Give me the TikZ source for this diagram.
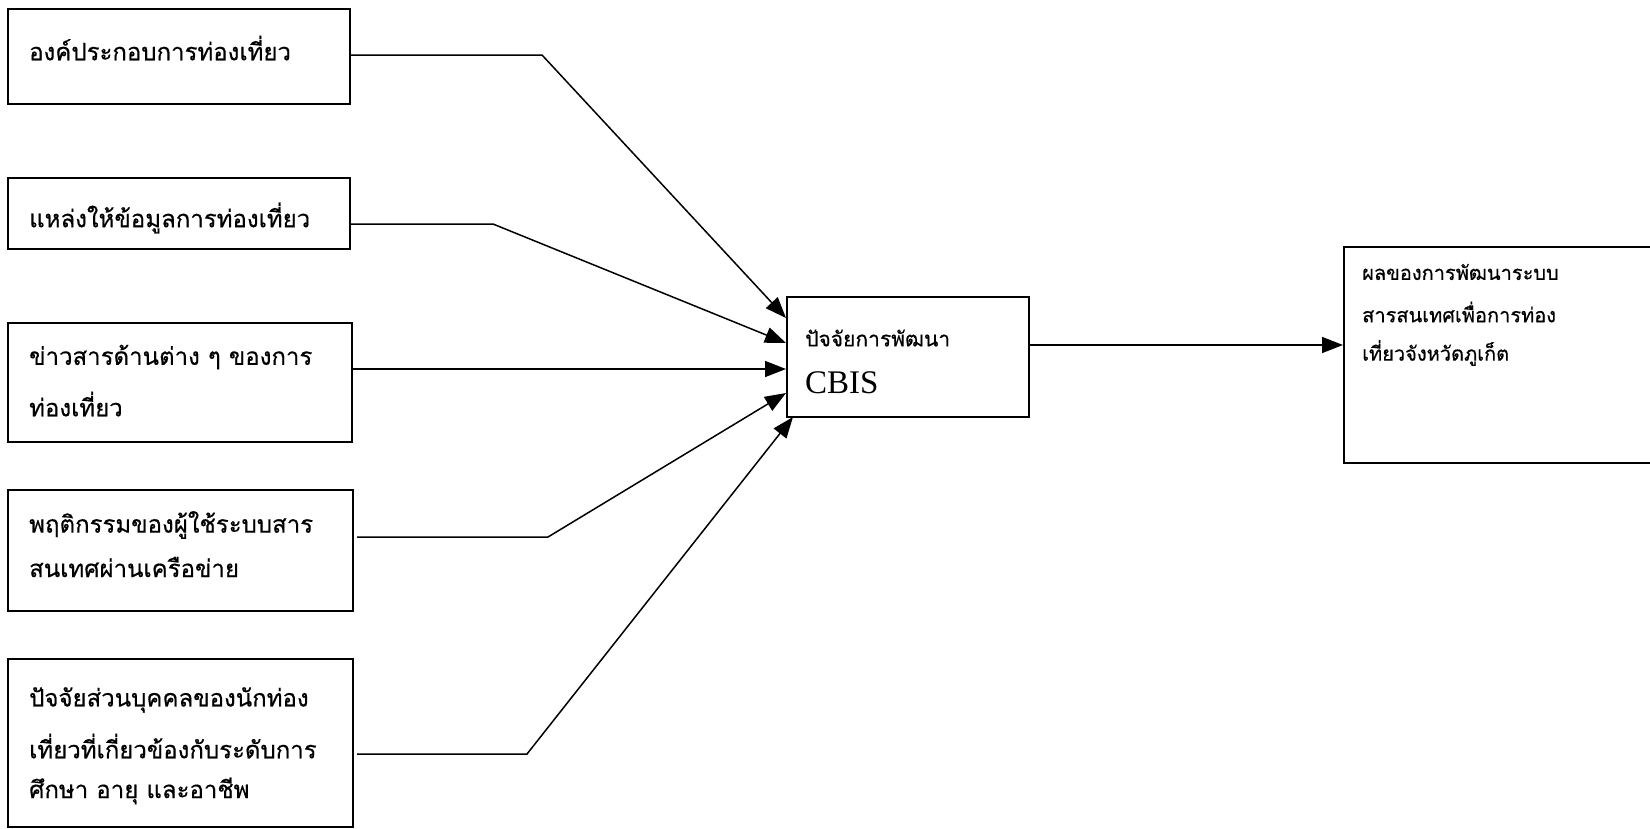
\documentclass[tikz,border=0pt]{standalone}
\usepackage{fontspec}
\setmainfont{Liberation Serif}
\newfontfamily\thaifont[Script=Thai,FakeBold=0.5]{Loma}
\usetikzlibrary{arrows.meta}
\begin{document}
\begin{tikzpicture}[x=1pt,y=-1pt,
  box/.style={draw, line width=1.9pt, inner sep=0pt, anchor=north west},
  conn/.style={line width=1.5pt, line join=miter},
  arr/.style={conn, -{Triangle[length=21pt,width=16pt]}},
  lbl/.style={anchor=west, inner sep=0pt, font=\thaifont\fontsize{24}{26}\selectfont},
  clbl/.style={lbl, font=\thaifont\fontsize{21}{24}\selectfont},
  rlbl/.style={lbl, font=\thaifont\fontsize{20}{24}\selectfont},
  cbis/.style={anchor=west, inner sep=0pt, font=\fontsize{33}{35}\selectfont}]
\useasboundingbox (0,0) rectangle (1650,828);
\fill[white] (0,0) rectangle (1650,828);
% boxes
\node[box, minimum width=342pt, minimum height=95pt]  (b1) at (7,8) {};
\node[box, minimum width=342pt, minimum height=71pt]  (b2) at (7,177) {};
\node[box, minimum width=344pt, minimum height=119pt] (b3) at (7,322) {};
\node[box, minimum width=345pt, minimum height=121pt] (b4) at (7,489) {};
\node[box, minimum width=345pt, minimum height=168pt] (b5) at (7,658) {};
\node[box, minimum width=242pt, minimum height=120pt] (c) at (786,296) {};
\node[box, minimum width=330pt, minimum height=216pt] (r) at (1343,246) {};
% texts
\node[lbl] (t1) at (29,48) {องค์ประกอบการท่องเที่ยว};
\node[lbl] (t2) at (29,218) {แหล่งให้ข้อมูลการท่องเที่ยว};
\node[lbl] (t3a) at (29,357) {ข่าวสารด้านต่าง ๆ ของการ};
\node[lbl] (t3b) at (29,404) {ท่องเที่ยว};
\node[lbl] (t4a) at (29,525) {พฤติกรรมของผู้ใช้ระบบสาร};
\node[lbl] (t4b) at (29,567) {สนเทศผ่านเครือข่าย};
\node[lbl] (t5a) at (29,700) {ปัจจัยส่วนบุคคลของนักท่อง};
\node[lbl] (t5b) at (29,746) {เที่ยวที่เกี่ยวข้องกับระดับการ};
\node[lbl] (t5c) at (29,791) {ศึกษา อายุ และอาชีพ};
\node[clbl] (tc) at (805,338) {ปัจจัยการพัฒนา};
\node[cbis] (tcb) at (805,383) {CBIS};
\node[rlbl] (ra) at (1362,272) {ผลของการพัฒนาระบบ};
\node[rlbl] (rb) at (1362,312) {สารสนเทศเพื่อการท่อง};
\node[rlbl] (rc) at (1362,353) {เที่ยวจังหวัดภูเก็ต};
% bend points
\coordinate (k1) at (542,55);
\coordinate (e1) at (786,318);
\coordinate (k2) at (493,224);
\coordinate (e2) at (786,343);
\coordinate (k3) at (357,369);
\coordinate (k4s) at (357,537);
\coordinate (k4) at (548,537);
\coordinate (e4) at (786,393);
\coordinate (k5s) at (357,754);
\coordinate (k5) at (527,754);
\coordinate (e5) at (793,417);
\coordinate (ko) at (0,345);
% connectors
\draw[arr] (b1.east |- k1) -- (k1) -- (c.west |- e1);
\draw[arr] (b2.east |- k2) -- (k2) -- (c.west |- e2);
\draw[arr] (b3.east |- k3) -- (c.west |- k3);
\draw[arr] (k4s) -- (k4) -- (c.west |- e4);
\draw[arr] (k5s) -- (k5) -- (e5);
\draw[arr] (c.east |- ko) -- (r.west |- ko);
\end{tikzpicture}
\end{document}
